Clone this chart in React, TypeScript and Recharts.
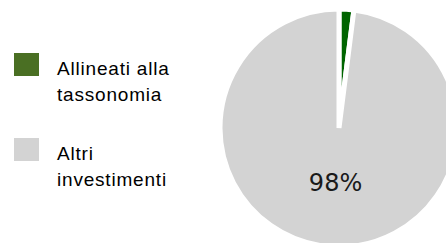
import { PieChart, Pie, Cell } from 'recharts';

const categories = ['Allineati alla tassonomia', 'Altri investimenti'];
const values = [2, 98];
const pieColors = ['#006400', '#d3d3d3'];
const legendColors = ['#4a6f23', '#d3d3d3'];
const legendLines = [['Allineati alla', 'tassonomia'], ['Altri', 'investimenti']];

const data = categories.map((name, i) => ({ name, value: values[i] }));

const RAD = Math.PI / 180;

const renderLabel = (p: any) => {
  if (p.value < 10) return null;
  const r = 55;
  const x = p.cx + r * Math.cos(-p.midAngle * RAD);
  const y = p.cy + r * Math.sin(-p.midAngle * RAD);
  return (
    <text x={x} y={y} textAnchor="middle" dominantBaseline="central"
      fontFamily="DejaVu Sans" fontSize={24} fill="#1a1a1a">
      {p.value}%
    </text>
  );
};

export default function App() {
  return (
    <div style={{ position: 'absolute', left: 0, top: 0, width: 446, height: 243, overflow: 'hidden', background: '#fff' }}>
      <PieChart width={446} height={243} margin={{ top: 0, right: 0, bottom: 0, left: 0 }}>
        <Pie
          data={data}
          dataKey="value"
          cx={339}
          cy={128}
          outerRadius={119}
          startAngle={90}
          endAngle={-270}
          stroke="#fff"
          strokeWidth={5}
          label={renderLabel}
          labelLine={false}
          isAnimationActive={false}
        >
          {data.map((d, i) => (
            <Cell key={d.name} fill={pieColors[i]} />
          ))}
        </Pie>
      </PieChart>
      {legendLines.map((lines, i) => (
        <div key={i} style={{ position: 'absolute', left: 14, top: i === 0 ? 53 : 138 }}>
          <div style={{ width: 25, height: 23, background: legendColors[i] }} />
          <div style={{
            position: 'absolute', left: 43, top: 3, whiteSpace: 'nowrap',
            fontFamily: 'Liberation Sans, Arial', fontSize: 19, letterSpacing: 0.8,
            lineHeight: '26px', color: '#000'
          }}>
            {lines.map((l) => <div key={l}>{l}</div>)}
          </div>
        </div>
      ))}
    </div>
  );
}
